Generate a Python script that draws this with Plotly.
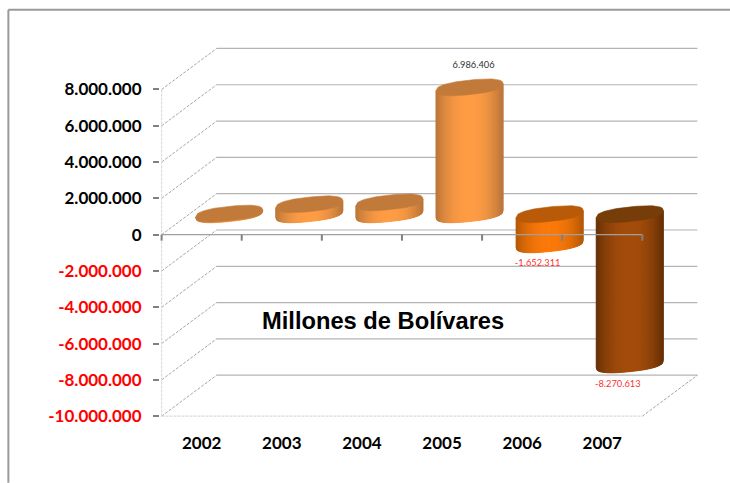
import plotly.graph_objects as go

anos = [2002, 2003, 2004, 2005, 2006, 2007]
valores = [30000, 540000, 650000, 6986406, -1652311, -8270613]
rotulos = ["", "", "", "6.986.406", "-1.652.311", "-8.270.613"]
y_ticks = [8000000, 6000000, 4000000, 2000000, 0, -2000000, -4000000, -6000000, -8000000, -10000000]
y_labels = ["8.000.000", "6.000.000", "4.000.000", "2.000.000", "0", "-2.000.000",
            "-4.000.000", "-6.000.000", "-8.000.000", "-10.000.000"]

# cor de cada cilindro: centro, borda, tampa
cores = [
    ("#ff9d45", "#b9753a", "#c27a3a"),
    ("#ff9d45", "#b9753a", "#c27a3a"),
    ("#ff9d45", "#b9753a", "#c27a3a"),
    ("#ff9d45", "#b9753a", "#c27a3a"),
    ("#fb7a0a", "#b35705", "#b85a08"),
    ("#a44d0c", "#653005", "#763d08"),
]

# escala: pixels por unidade dos eixos
px_x = 80
px_y = 18.15 / 1000000
prof_x = 55 / px_x          # profundidade do grafico 3d
prof_y = 41 / px_y
raio = 33.5 / px_x
incl = 3.5 / px_y           # inclinacao da elipse
meia = 7.3 / px_y


def mistura(c1, c2, t):
    a = [int(c1[i:i + 2], 16) for i in (1, 3, 5)]
    b = [int(c2[i:i + 2], 16) for i in (1, 3, 5)]
    return "rgb(%d,%d,%d)" % tuple(a[i] + (b[i] - a[i]) * t for i in range(3))


def arco(u):
    # elipse um pouco mais cheia que a normal, como no original
    return (1 - abs(u) ** 2.5) ** (1 / 2.5)


def linha(fig, xs, ys, cor, larg=1, dash="solid"):
    fig.add_trace(go.Scatter(x=xs, y=ys, mode="lines", hoverinfo="skip",
                             line=dict(color=cor, width=larg, dash=dash)))


fig = go.Figure()

x_ini = -0.5
x_fim = len(anos) - 0.5

# paredes do fundo e diagonais
for v in y_ticks:
    linha(fig, [x_ini + prof_x, x_fim + prof_x], [v + prof_y, v + prof_y], "#b4b4b4", 1.2)
    linha(fig, [x_ini, x_ini + prof_x], [v, v + prof_y], "#808080", 0.7, "3px,1.5px")

piso = y_ticks[-1]
linha(fig, [x_fim, x_fim + prof_x], [piso, piso + prof_y], "#808080", 0.7, "3px,1.5px")
linha(fig, [x_ini, x_fim], [piso, piso], "#dcdcdc", 1.2, "3px,1px")
linha(fig, [x_ini, x_ini], [y_ticks[0], piso], "#dcdcdc", 1.2, "3px,1px")

# cilindros
N = 67
for i, v in enumerate(valores):
    cx = i + prof_x / 2
    base = prof_y / 2
    topo = base + max(v, 0)
    fundo = base + min(v, 0)
    centro, borda, tampa = cores[i]
    for k in range(N):
        u1 = -1 + 2 * k / N
        u2 = -1 + 2 * (k + 1) / N
        um = (u1 + u2) / 2
        xs = [cx + raio * u1, cx + raio * u2, cx + raio * u2, cx + raio * u1, cx + raio * u1]
        ys = [topo + incl * u1, topo + incl * u2,
              fundo + incl * u2 - meia * arco(u2),
              fundo + incl * u1 - meia * arco(u1),
              topo + incl * u1]
        cor = mistura(centro, borda, min(abs(um) ** 2.2, 1))
        fig.add_trace(go.Scatter(x=xs, y=ys, mode="lines", fill="toself", fillcolor=cor,
                                 line=dict(color=cor, width=1), hoverinfo="skip"))
    us = [-1 + 2 * k / 80 for k in range(81)]
    xs = [cx + raio * u for u in us] + [cx + raio * u for u in reversed(us)]
    ys = [topo + incl * u + meia * arco(u) for u in us] + \
         [topo + incl * u - meia * arco(u) for u in reversed(us)]
    fig.add_trace(go.Scatter(x=xs, y=ys, mode="lines", fill="toself", fillcolor=tampa,
                             line=dict(color=tampa, width=0.6), hoverinfo="skip"))

# linha do zero e marcas, por cima dos cilindros
linha(fig, [x_ini, x_fim], [0, 0], "#a0a0a0", 1.2)
for i in range(len(anos) + 1):
    linha(fig, [x_ini + i, x_ini + i], [0, -6 / px_y], "#808080", 2)

# rotulos dos valores
rot_x = []
rot_y = []
rot_cor = []
for i, v in enumerate(valores):
    if v >= 0:
        rot_x.append(i + prof_x / 2 + 4 / px_x)
        rot_y.append(v + prof_y / 2 + 21.5 / px_y)
        rot_cor.append("#333333")
    else:
        rot_x.append(i + prof_x / 2 - 12 / px_x)
        rot_y.append(v + prof_y / 2 - 20 / px_y)
        rot_cor.append("#ff3030")
fig.add_trace(go.Scatter(x=rot_x, y=rot_y, mode="text", text=rotulos, hoverinfo="skip",
                         textposition="middle center",
                         textfont=dict(family="Lato", size=9.3, color=rot_cor)))

y_topo = 10.45e6
y_base = -10.1e6
x_dir = x_fim + prof_x + 0.02
x_esq = x_ini - 0.02

# area do grafico em pixels, para a moldura
area_esq = 162 + (x_esq - x_ini) * px_x
area_dir = 162 + (x_dir - x_ini) * px_x
area_topo = 235 - y_topo * px_y
area_base = 235 - y_base * px_y
moldura_x = (9 - area_esq) / (area_dir - area_esq)
moldura_dir = (730 - area_esq) / (area_dir - area_esq)
moldura_y = (area_base - 10) / (area_base - area_topo)
moldura_baixo = (area_base - 483) / (area_base - area_topo)

ticktext = [t if v >= 0 else '<span style="color:#ff0000">%s</span>' % t
            for v, t in zip(y_ticks, y_labels)]

fig.update_layout(
    template="plotly_white",
    width=730,
    height=483,
    showlegend=False,
    paper_bgcolor="white",
    plot_bgcolor="white",
    margin=dict(l=area_esq, r=730 - area_dir, t=area_topo, b=483 - area_base, pad=0),
    xaxis=dict(range=[x_esq, x_dir], tickmode="array", tickvals=list(range(len(anos))),
               ticktext=[str(a) for a in anos], showgrid=False, zeroline=False, showline=False,
               ticks="", ticklabelstandoff=13,
               tickfont=dict(family="Lato", size=17, color="black", weight="bold")),
    yaxis=dict(range=[y_base, y_topo], tickmode="array", tickvals=y_ticks, ticktext=ticktext,
               showgrid=False, zeroline=False, showline=False,
               ticks="outside", ticklen=6, tickwidth=2, tickcolor="#808080", ticklabelstandoff=8,
               tickfont=dict(family="Lato", size=17, color="black", weight="bold")),
    annotations=[dict(x=(383 - 162) / px_x + x_ini, y=(235 - 321) / px_y, xref="x", yref="y",
                      text="<b>Millones de Bolívares</b>", showarrow=False,
                      font=dict(family="Liberation Sans", size=23.7, color="black"))],
    shapes=[
        dict(type="line", xref="paper", yref="paper", layer="below",
             x0=moldura_x, x1=moldura_dir, y0=moldura_y, y1=moldura_y,
             line=dict(color="#9a9a9a", width=2)),
        dict(type="line", xref="paper", yref="paper", layer="below",
             x0=moldura_x, x1=moldura_x, y0=moldura_y, y1=moldura_baixo,
             line=dict(color="#9a9a9a", width=2)),
    ],
)

fig.write_html("out.html", config=dict(displayModeBar=False),
               post_script="document.body.style.margin='0';document.body.style.overflow='hidden';")
